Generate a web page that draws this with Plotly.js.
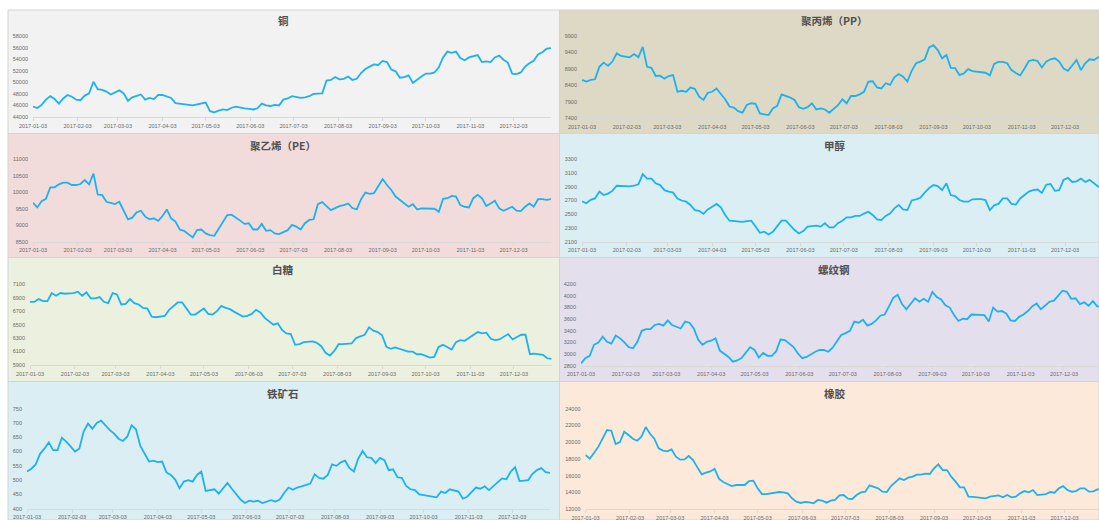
<!DOCTYPE html>
<html>
<head>
<meta charset="utf-8">
<script src="https://cdn.plot.ly/plotly-3.0.1.min.js"></script>
<style>
html,body{margin:0;padding:0;background:#fff;}
#chart{width:1099px;height:520px;}
</style>
</head>
<body>
<div id="chart"></div>
<script>
// ---- data (sampled every 3 days through 2017) ----
const dates = ["2017-01-03","2017-01-06","2017-01-09","2017-01-12","2017-01-15","2017-01-18","2017-01-21","2017-01-24","2017-01-27","2017-01-30",
"2017-02-02","2017-02-05","2017-02-08","2017-02-11","2017-02-14","2017-02-17","2017-02-20","2017-02-23","2017-02-26","2017-03-01",
"2017-03-04","2017-03-07","2017-03-10","2017-03-13","2017-03-16","2017-03-19","2017-03-22","2017-03-25","2017-03-28","2017-03-31",
"2017-04-03","2017-04-06","2017-04-09","2017-04-12","2017-04-15","2017-04-18","2017-04-21","2017-04-24","2017-04-27","2017-04-30",
"2017-05-03","2017-05-06","2017-05-09","2017-05-12","2017-05-15","2017-05-18","2017-05-21","2017-05-24","2017-05-27","2017-05-30",
"2017-06-02","2017-06-05","2017-06-08","2017-06-11","2017-06-14","2017-06-17","2017-06-20","2017-06-23","2017-06-26","2017-06-29",
"2017-07-02","2017-07-05","2017-07-08","2017-07-11","2017-07-14","2017-07-17","2017-07-20","2017-07-23","2017-07-26","2017-07-29",
"2017-08-01","2017-08-04","2017-08-07","2017-08-10","2017-08-13","2017-08-16","2017-08-19","2017-08-22","2017-08-25","2017-08-28",
"2017-08-31","2017-09-03","2017-09-06","2017-09-09","2017-09-12","2017-09-15","2017-09-18","2017-09-21","2017-09-24","2017-09-27",
"2017-09-30","2017-10-03","2017-10-06","2017-10-09","2017-10-12","2017-10-15","2017-10-18","2017-10-21","2017-10-24","2017-10-27",
"2017-10-30","2017-11-02","2017-11-05","2017-11-08","2017-11-11","2017-11-14","2017-11-17","2017-11-20","2017-11-23","2017-11-26",
"2017-11-29","2017-12-02","2017-12-05","2017-12-08","2017-12-11","2017-12-14","2017-12-17","2017-12-20","2017-12-23","2017-12-26",
"2017-12-29"];

const copper = [45800,45550,46100,47000,47600,47100,46300,47200,47800,47500,
47000,46900,47700,48100,50100,48800,48700,48400,47900,48200,
48600,48100,46800,47400,47700,47900,47000,47300,47100,47800,
47800,47600,47300,46400,46300,46200,46000,46000,46200,46400,
46500,45000,44800,45100,45300,45200,45600,45800,45600,45500,
45400,45300,45500,46300,46000,45900,46100,46000,47000,47200,
47600,47500,47300,47400,47600,48000,48100,48100,50300,50400,
50900,50500,50600,51000,50400,50600,51600,52300,52700,53100,
53000,53700,53500,52200,51900,50800,50900,51200,49900,50500,
51000,51500,51500,51700,52600,54300,55300,55100,55300,54200,
53800,54300,54500,54700,53500,53600,53500,54300,54600,53900,
53400,51500,51400,51700,52700,53300,53700,54800,55200,55800,
55900];

const pp = [8560,8510,8560,8580,8960,9090,8990,9120,9370,9290,
9270,9250,9350,9250,9570,8960,8930,8680,8690,8600,
8680,8710,8200,8230,8200,8330,8290,8050,7950,8170,
8200,8300,8130,7970,7750,7720,7610,7560,7800,7850,
7830,7540,7510,7490,7690,7770,8120,8080,8020,7950,
7730,7680,7730,7850,7660,7690,7660,7560,7690,7790,
7970,7850,8070,8070,8120,8200,8510,8520,8330,8300,
8460,8410,8640,8740,8660,8510,8840,9070,9120,9190,
9550,9620,9470,9220,9320,8930,8920,8710,8760,8890,
8830,8810,8800,8780,8700,9050,9110,9110,9070,8860,
8770,8700,8910,9140,9170,9140,8940,9120,9190,9220,
9120,8910,8840,9000,9170,8860,9070,9190,9170,9250,
9320];

const pe = [9680,9540,9730,9800,10150,10150,10240,10290,10290,10220,
10220,10250,10370,10240,10570,9930,9920,9710,9680,9640,
9710,9460,9180,9230,9390,9440,9260,9180,9210,9130,
9280,9480,9210,9110,8870,8830,8730,8630,8850,8870,
8750,8700,8680,8900,9100,9310,9320,9240,9140,9040,
9060,8870,8870,9040,8830,8850,8750,8730,8800,8850,
9010,8960,8870,9060,9160,9180,9640,9700,9580,9460,
9520,9580,9610,9660,9520,9480,9790,9990,9950,9970,
10190,10400,10220,10070,9870,9770,9660,9560,9640,9480,
9510,9510,9510,9500,9410,9800,9820,9890,9870,9610,
9560,9540,9820,9920,9820,9580,9660,9740,9510,9440,
9500,9560,9440,9430,9560,9660,9560,9790,9790,9770,
9790];

const methanol = [2690,2660,2710,2730,2830,2780,2800,2840,2915,2910,
2905,2905,2915,2935,3085,3020,3020,2950,2925,2850,
2830,2815,2730,2700,2683,2635,2560,2550,2505,2570,
2610,2650,2600,2490,2406,2400,2395,2390,2400,2406,
2320,2230,2245,2205,2245,2320,2406,2406,2340,2270,
2220,2255,2320,2330,2333,2320,2370,2310,2310,2370,
2406,2455,2455,2475,2475,2510,2537,2490,2425,2415,
2475,2510,2585,2635,2570,2560,2700,2717,2740,2815,
2880,2925,2910,2850,2950,2780,2765,2707,2683,2683,
2717,2720,2720,2707,2560,2630,2650,2730,2730,2650,
2640,2730,2780,2830,2850,2860,2810,2930,2940,2840,
2850,3000,3030,2970,2980,3020,2970,3000,2950,2900,
2890];

const sugar = [6840,6840,6880,6850,6850,6970,6930,6970,6960,6960,
6970,6990,6930,6980,6890,6890,6910,6840,6820,6970,
6950,6800,6810,6880,6820,6800,6750,6740,6620,6610,
6620,6630,6720,6780,6830,6830,6730,6650,6650,6700,
6740,6660,6650,6700,6780,6750,6730,6690,6650,6620,
6630,6660,6720,6680,6600,6550,6500,6520,6420,6370,
6360,6200,6210,6240,6240,6250,6230,6180,6080,6040,
6110,6210,6210,6220,6220,6300,6320,6350,6460,6410,
6390,6340,6170,6140,6160,6140,6120,6100,6100,6060,
6060,6030,6010,6020,6170,6200,6160,6130,6240,6270,
6260,6300,6340,6390,6370,6380,6290,6270,6280,6320,
6360,6280,6310,6350,6350,6060,6070,6060,6050,6000,
5990];

const rebar = [2840,2930,2970,3160,3200,3300,3210,3180,3320,3270,
3200,3120,3100,3210,3400,3430,3430,3500,3520,3490,
3580,3500,3470,3440,3560,3540,3440,3250,3160,3210,
3230,3270,3060,3010,2950,2870,2890,2930,3030,3120,
3070,2940,3020,2970,2970,3050,3250,3240,3180,3120,
3010,2930,2950,3000,3040,3070,3070,3040,3110,3220,
3330,3360,3400,3560,3540,3590,3490,3520,3580,3660,
3680,3820,3970,4020,3860,3770,3870,3960,3900,3950,
3900,4070,3980,3940,3840,3800,3670,3570,3610,3600,
3680,3680,3680,3670,3560,3800,3730,3740,3700,3580,
3570,3640,3680,3740,3820,3870,3770,3840,3900,3920,
4000,4090,4070,3950,3960,3860,3890,3830,3910,3820,
3820];

const ironOre = [530,540,555,592,610,632,605,605,648,635,
618,600,610,670,698,680,700,708,692,675,
663,645,637,652,692,678,620,595,565,568,
563,565,527,518,502,472,495,500,495,518,
530,462,465,468,453,470,490,470,450,432,
420,428,425,428,420,424,430,425,432,455,
474,466,474,478,484,488,520,508,505,518,
555,550,562,568,542,530,575,602,580,578,
560,578,570,535,538,510,508,480,468,465,
450,447,445,443,440,460,455,468,465,460,
435,442,458,474,470,478,465,478,490,506,
503,530,545,497,498,500,522,535,542,528,
525];

const rubber = [18460,18020,18740,19460,20450,21450,21370,19770,20010,21250,
20850,20410,20170,20650,21800,21000,20410,19260,18980,18900,
19140,18260,17900,17940,18340,17860,16980,16150,16350,16500,
16820,15630,15230,14950,14750,14870,14830,14870,15350,15390,
14470,13790,13790,13870,14030,14030,13990,13870,13280,12880,
12720,12840,12800,12680,13080,13000,12760,13000,13080,13630,
13670,13240,13200,13670,13990,14070,14830,14670,14470,14070,
14030,14750,15270,15670,15470,15750,15870,16110,16110,16230,
16190,16860,17340,16660,16660,15870,15270,14590,14590,13480,
13440,13400,13360,13280,13480,13520,13630,13400,13670,13400,
13480,13870,14150,13990,14270,13670,13710,13790,14030,13950,
14470,14750,14270,14070,14150,14470,14470,14070,14110,14350,
14350];

const titles = ["铜","聚丙烯（PP）","聚乙烯（PE）","甲醇","白糖","螺纹钢","铁矿石","橡胶"];
const tickLabels = ["2017-01-03","2017-02-03","2017-03-03","2017-04-03","2017-05-03","2017-06-03",
"2017-07-03","2017-08-03","2017-09-03","2017-10-03","2017-11-03","2017-12-03"];
const yRanges = [[44000,58000],[7400,9900],[8500,11000],[2100,3300],[5900,7100],[2800,4200],[400,750],[12000,24000]];
const ySteps = [2000,500,500,200,200,200,50,2000];

// ---- layout geometry (pixels) ----
const W = 1099, H = 520;
const series = [copper, pp, pe, methanol, sugar, rebar, ironOre, rubber];
const bg = ["#f2f2f2","#ddd9c4","#f2dcdb","#daeef3","#ebf1de","#e4dfec","#daeef3","#fde9d9"];
// plot areas: [x0, x1, yTop, yBottom] in px, and x-range end date
const areas = [
  [33, 551, 36, 117, "2017-12-29"],
  [582, 1099, 36, 118, "2017-12-26 12:00"],
  [33, 551, 159.3, 241.7, "2017-12-29"],
  [582, 1099, 159.3, 241.7, "2017-12-26 12:00"],
  [30, 551.6, 284.3, 365, "2017-12-29"],
  [581, 1099, 284.3, 365.7, "2017-12-27 05:00"],
  [27, 550, 408.7, 508.7, "2017-12-29"],
  [585.5, 1099, 408.7, 509, "2017-12-27"]
];
const panels = [
  [8,559.5,10,133.5],[559.5,1099,10,133.5],
  [8,559.5,133.5,257.5],[559.5,1099,133.5,257.5],
  [8,559.5,257.5,381.5],[559.5,1099,257.5,381.5],
  [8,559.5,381.5,520],[559.5,1099,381.5,520]
];
const titlePos = [[283,21],[834,21],[283,145],[835,145],[283,269],[834,269],[283,393],[835,393]];

const px = x => x / W;
const py = y => 1 - y / H;

const traces = [];
const layout = {
  width: W, height: H,
  margin: {l:0, r:0, t:0, b:0},
  paper_bgcolor: "#ffffff",
  plot_bgcolor: "rgba(0,0,0,0)",
  showlegend: false,
  hovermode: false,
  shapes: [],
  annotations: []
};

for (let i = 0; i < 8; i++) {
  const n = i === 0 ? "" : String(i + 1);
  traces.push({
    x: dates, y: series[i], type: "scatter", mode: "lines",
    xaxis: "x" + n, yaxis: "y" + n,
    line: {color: "#1cb2ef", width: 1.8},
    hoverinfo: "skip"
  });
  const a = areas[i];
  layout["xaxis" + n] = {
    type: "date",
    domain: [px(a[0]), px(a[1])],
    range: ["2017-01-03", a[4]],
    anchor: "y" + n,
    tickvals: tickLabels, ticktext: tickLabels,
    showgrid: false, zeroline: false,
    showline: true, linecolor: "#d9d9d9", linewidth: 1,
    ticks: "outside", ticklen: 3, tickcolor: "#d9d9d9", tickwidth: 1,
    tickfont: {family: "Liberation Sans, Arial, sans-serif", size: 5.5, color: "#6b6b6b"},
    fixedrange: true
  };
  layout["yaxis" + n] = {
    domain: [py(a[3]), py(a[2])],
    range: yRanges[i],
    anchor: "x" + n,
    dtick: ySteps[i], tick0: yRanges[i][0],
    tickformat: "d",
    showgrid: false, zeroline: false, showline: false,
    ticks: "",
    ticklabelstandoff: 4,
    tickfont: {family: "Liberation Sans, Arial, sans-serif", size: 5.5, color: "#6b6b6b"},
    fixedrange: true
  };
  const p = panels[i];
  layout.shapes.push({
    type: "rect", xref: "paper", yref: "paper", layer: "below",
    x0: px(p[0]), x1: px(p[1]), y0: py(p[3]), y1: py(p[2]),
    fillcolor: bg[i], line: {color: "#d4d4d4", width: 1}
  });
  layout.annotations.push({
    text: titles[i], xref: "paper", yref: "paper",
    x: px(titlePos[i][0]), y: py(titlePos[i][1]),
    xanchor: "center", yanchor: "middle", showarrow: false,
    font: {family: "Noto Sans CJK SC, sans-serif", size: 10.5, color: "#505050", weight: 600}
  });
}

Plotly.newPlot("chart", traces, layout, {displayModeBar: false, staticPlot: true});
</script>
</body>
</html>
